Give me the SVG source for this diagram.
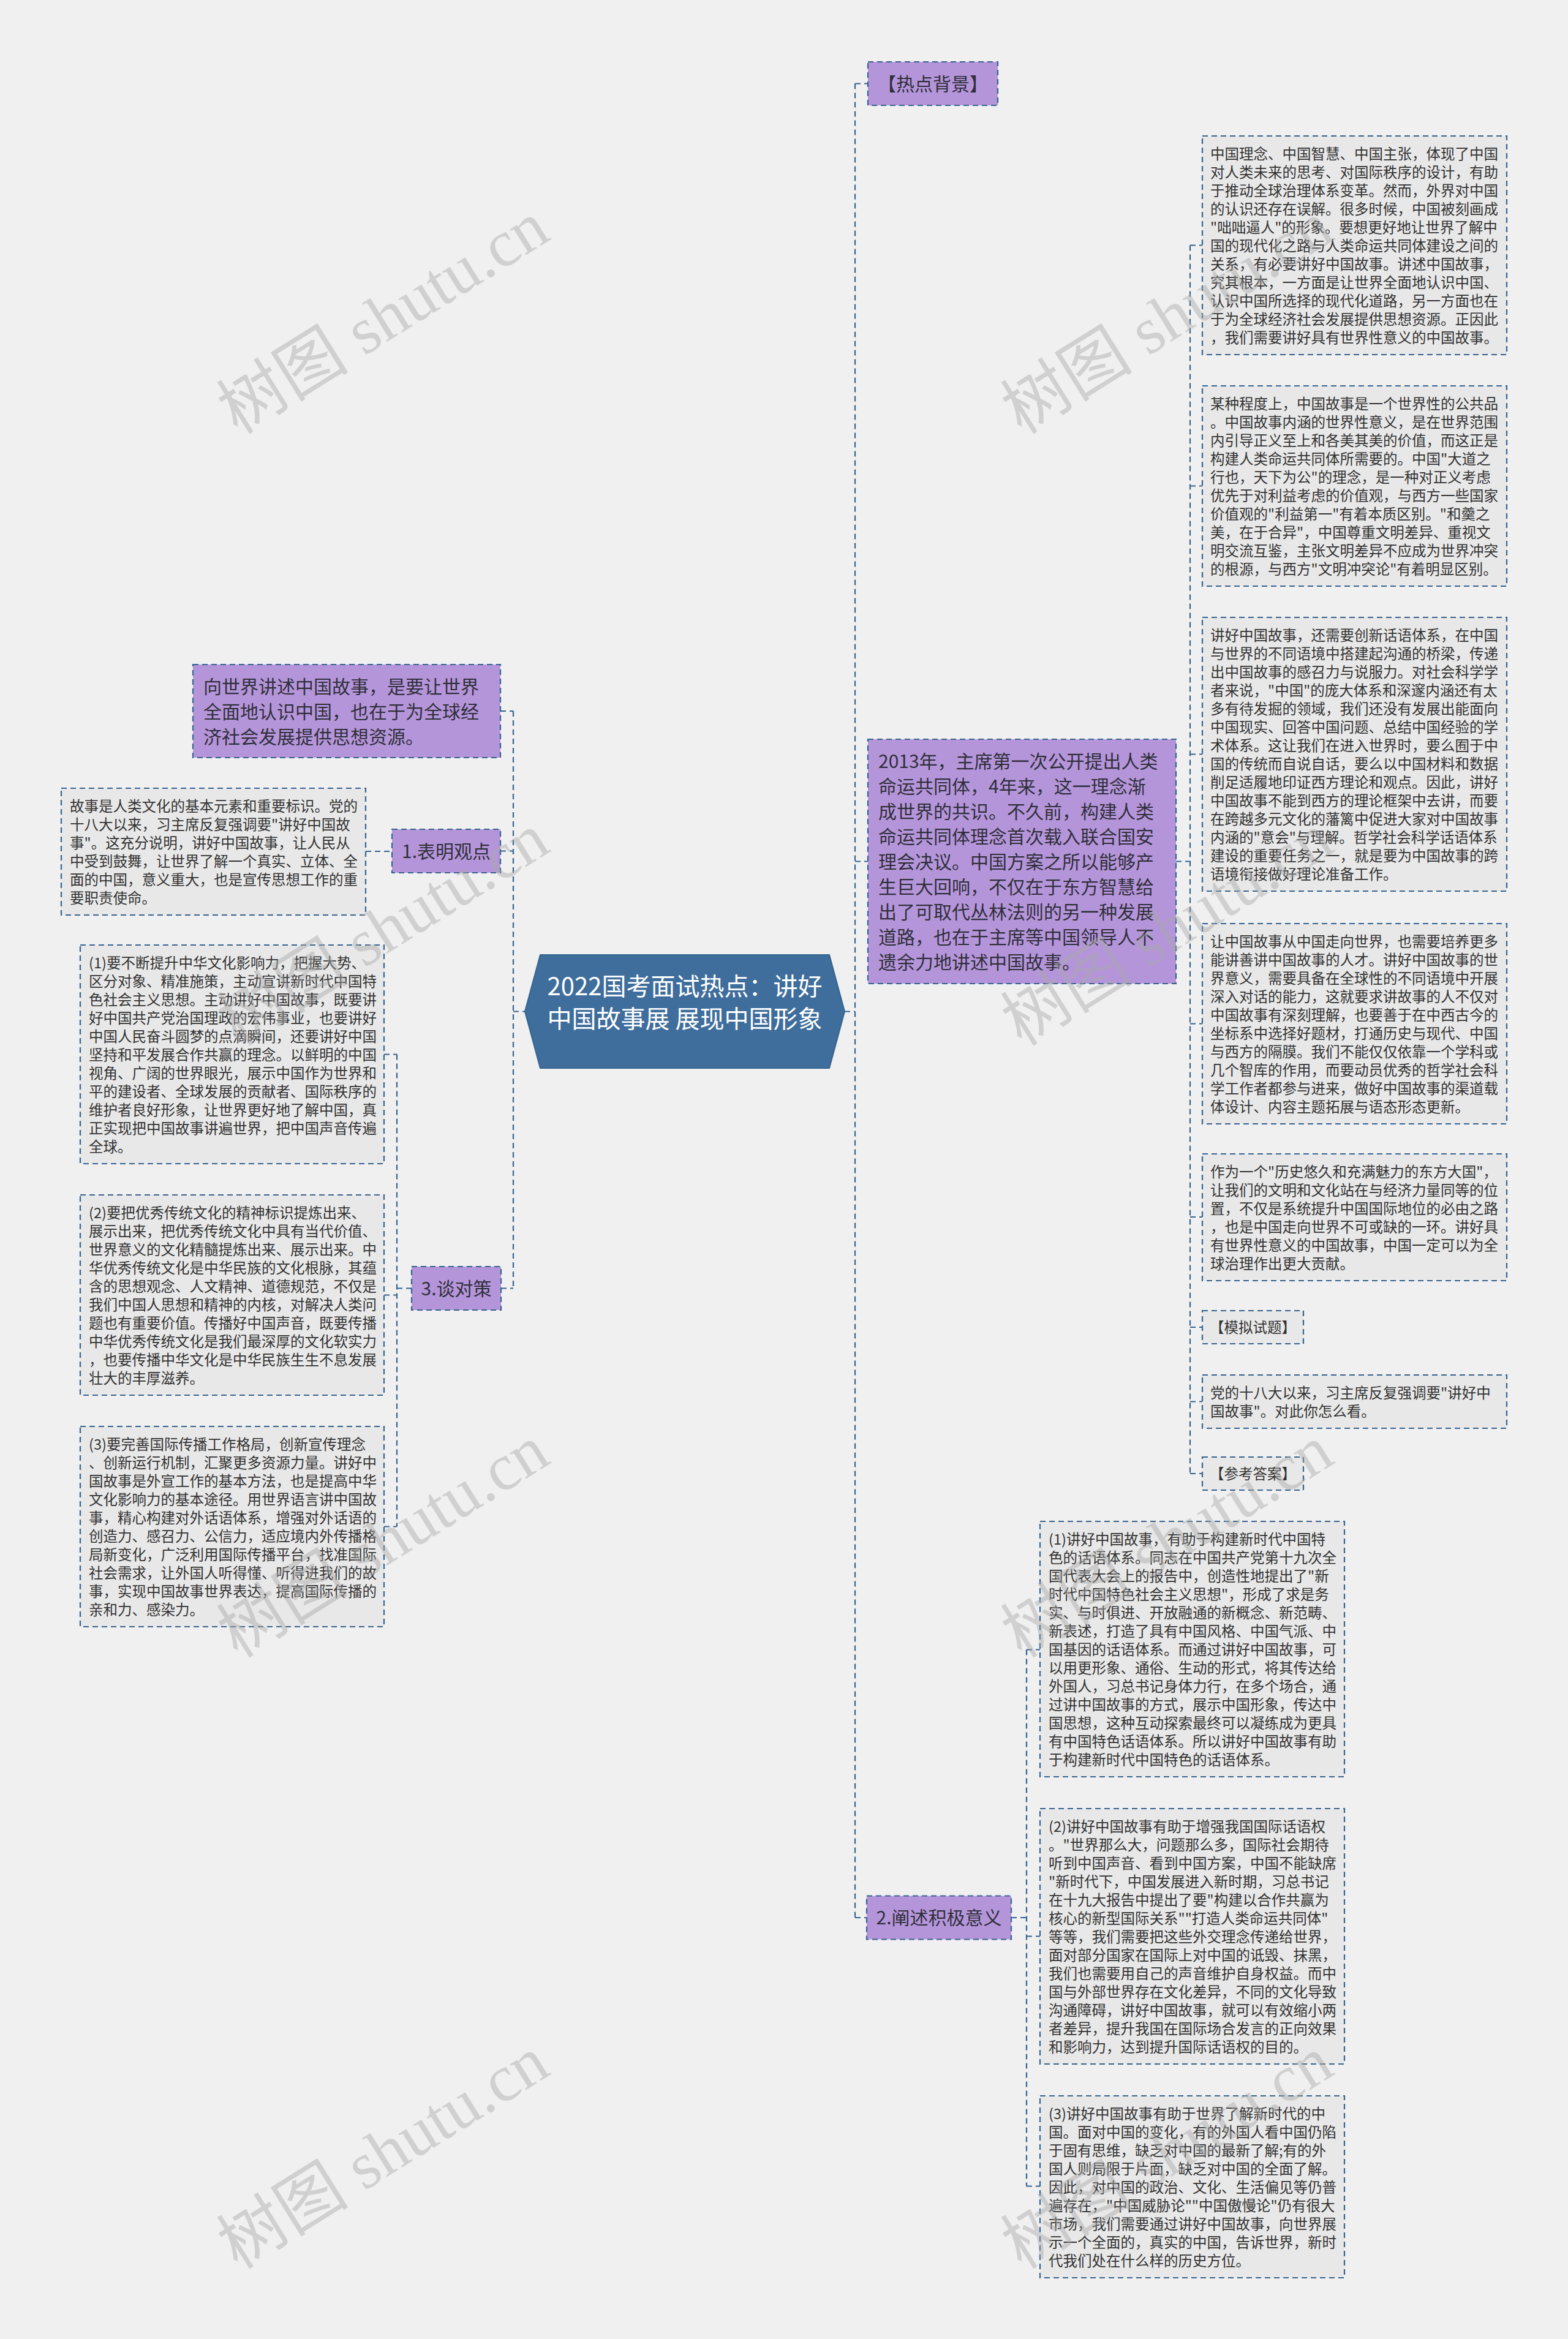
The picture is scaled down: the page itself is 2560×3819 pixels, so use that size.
<svg xmlns="http://www.w3.org/2000/svg" width="2560" height="3819" viewBox="0 0 2560 3819">
<style>
.conn{fill:none;stroke:#36648f;stroke-width:2.2;stroke-dasharray:9 6}
.box{fill:#e8e8e8;stroke:#36648f;stroke-width:2.2;stroke-dasharray:9 6}
.pur{fill:#b595da;stroke:#36648f;stroke-width:2.2;stroke-dasharray:9 6}
.t{font-family:"Noto Sans CJK SC","Liberation Sans",sans-serif;font-size:23.5px;fill:#333333}
.tp{font-family:"Noto Sans CJK SC","Liberation Sans",sans-serif;font-size:30px;fill:#2f2f3a}
.tc{font-family:"Noto Sans CJK SC","Liberation Sans",sans-serif;font-size:40px;fill:#ffffff}
.wm{font-family:"Liberation Serif","Noto Sans CJK SC",serif;font-size:108px;fill:#a8a8a8;fill-opacity:0.45}
</style>
<rect x="0" y="0" width="2560" height="3819" fill="#f0f0f0"/>

<g id="connectors">
<path class="conn" d="M1396,136.5 V3131 M1379,1651.5 H1396 M1396,136.5 H1417 M1396,1406.5 H1417 M1396,3131 H1415"/>
<path class="conn" d="M838,1161 V2103.5 M838,1651.5 H857 M817,1161 H838 M817,1389.5 H838 M818,2103.5 H838"/>
<path class="conn" d="M597,1390 H640"/>
<path class="conn" d="M648,1721.5 V2492.5 M648,2103.5 H672 M627,1721.5 H648 M627,2114.5 H648 M627,2492.5 H648"/>
<path class="conn" d="M1943,400.5 V2406 M1920,1406.5 H1943 M1943,400.5 H1963 M1943,793.5 H1963 M1943,1231.5 H1963 M1943,1671.5 H1963 M1943,1987 H1963 M1943,2167 H1963 M1943,2288.5 H1963 M1943,2406 H1963"/>
<path class="conn" d="M1676,2693.5 V3569.5 M1651,3131 H1676 M1676,2693.5 H1698 M1676,3161.5 H1698 M1676,3569.5 H1698"/>
</g>

<g id="center">
<path d="M857,1651.5 L882,1559 H1354 L1379,1651.5 L1354,1744 H882 Z" fill="#3f6e9d" stroke="#36648f" stroke-width="2" stroke-linejoin="round"/>
<text class="tc" text-anchor="middle"><tspan x="1118" y="1625">2022国考面试热点：讲好</tspan><tspan x="1118" y="1678">中国故事展 展现中国形象</tspan></text>
</g>

<g id="n-rdbj">
<rect class="pur" x="1417" y="101" width="212" height="71"/>
<text class="tp" x="1523" y="147.5" text-anchor="middle">【热点背景】</text>
</g>

<g id="n-2013">
<rect class="pur" x="1417" y="1207" width="503" height="399"/>
<text class="tp"><tspan x="1434" y="1254">2013年，主席第一次公开提出人类</tspan><tspan x="1434" dy="41">命运共同体，4年来，这一理念渐</tspan><tspan x="1434" dy="41">成世界的共识。不久前，构建人类</tspan><tspan x="1434" dy="41">命运共同体理念首次载入联合国安</tspan><tspan x="1434" dy="41">理会决议。中国方案之所以能够产</tspan><tspan x="1434" dy="41">生巨大回响，不仅在于东方智慧给</tspan><tspan x="1434" dy="41">出了可取代丛林法则的另一种发展</tspan><tspan x="1434" dy="41">道路，也在于主席等中国领导人不</tspan><tspan x="1434" dy="41">遗余力地讲述中国故事。</tspan></text>
</g>

<g id="n-r1">
<rect class="box" x="1963" y="222" width="497" height="357"/>
<text class="t"><tspan x="1976" y="260">中国理念、中国智慧、中国主张，体现了中国</tspan><tspan x="1976" dy="30">对人类未来的思考、对国际秩序的设计，有助</tspan><tspan x="1976" dy="30">于推动全球治理体系变革。然而，外界对中国</tspan><tspan x="1976" dy="30">的认识还存在误解。很多时候，中国被刻画成</tspan><tspan x="1976" dy="30">"咄咄逼人"的形象。要想更好地让世界了解中</tspan><tspan x="1976" dy="30">国的现代化之路与人类命运共同体建设之间的</tspan><tspan x="1976" dy="30">关系，有必要讲好中国故事。讲述中国故事，</tspan><tspan x="1976" dy="30">究其根本，一方面是让世界全面地认识中国、</tspan><tspan x="1976" dy="30">认识中国所选择的现代化道路，另一方面也在</tspan><tspan x="1976" dy="30">于为全球经济社会发展提供思想资源。正因此</tspan><tspan x="1976" dy="30">，我们需要讲好具有世界性意义的中国故事。</tspan></text>
</g>

<g id="n-r2">
<rect class="box" x="1963" y="630" width="497" height="327"/>
<text class="t"><tspan x="1976" y="668">某种程度上，中国故事是一个世界性的公共品</tspan><tspan x="1976" dy="30">。中国故事内涵的世界性意义，是在世界范围</tspan><tspan x="1976" dy="30">内引导正义至上和各美其美的价值，而这正是</tspan><tspan x="1976" dy="30">构建人类命运共同体所需要的。中国"大道之</tspan><tspan x="1976" dy="30">行也，天下为公"的理念，是一种对正义考虑</tspan><tspan x="1976" dy="30">优先于对利益考虑的价值观，与西方一些国家</tspan><tspan x="1976" dy="30">价值观的"利益第一"有着本质区别。"和羹之</tspan><tspan x="1976" dy="30">美，在于合异"，中国尊重文明差异、重视文</tspan><tspan x="1976" dy="30">明交流互鉴，主张文明差异不应成为世界冲突</tspan><tspan x="1976" dy="30">的根源，与西方"文明冲突论"有着明显区别。</tspan></text>
</g>

<g id="n-r3">
<rect class="box" x="1963" y="1008" width="497" height="447"/>
<text class="t"><tspan x="1976" y="1046">讲好中国故事，还需要创新话语体系，在中国</tspan><tspan x="1976" dy="30">与世界的不同语境中搭建起沟通的桥梁，传递</tspan><tspan x="1976" dy="30">出中国故事的感召力与说服力。对社会科学学</tspan><tspan x="1976" dy="30">者来说，"中国"的庞大体系和深邃内涵还有太</tspan><tspan x="1976" dy="30">多有待发掘的领域，我们还没有发展出能面向</tspan><tspan x="1976" dy="30">中国现实、回答中国问题、总结中国经验的学</tspan><tspan x="1976" dy="30">术体系。这让我们在进入世界时，要么囿于中</tspan><tspan x="1976" dy="30">国的传统而自说自话，要么以中国材料和数据</tspan><tspan x="1976" dy="30">削足适履地印证西方理论和观点。因此，讲好</tspan><tspan x="1976" dy="30">中国故事不能到西方的理论框架中去讲，而要</tspan><tspan x="1976" dy="30">在跨越多元文化的藩篱中促进大家对中国故事</tspan><tspan x="1976" dy="30">内涵的"意会"与理解。哲学社会科学话语体系</tspan><tspan x="1976" dy="30">建设的重要任务之一，就是要为中国故事的跨</tspan><tspan x="1976" dy="30">语境衔接做好理论准备工作。</tspan></text>
</g>

<g id="n-r4">
<rect class="box" x="1963" y="1508" width="497" height="327"/>
<text class="t"><tspan x="1976" y="1546">让中国故事从中国走向世界，也需要培养更多</tspan><tspan x="1976" dy="30">能讲善讲中国故事的人才。讲好中国故事的世</tspan><tspan x="1976" dy="30">界意义，需要具备在全球性的不同语境中开展</tspan><tspan x="1976" dy="30">深入对话的能力，这就要求讲故事的人不仅对</tspan><tspan x="1976" dy="30">中国故事有深刻理解，也要善于在中西古今的</tspan><tspan x="1976" dy="30">坐标系中选择好题材，打通历史与现代、中国</tspan><tspan x="1976" dy="30">与西方的隔膜。我们不能仅仅依靠一个学科或</tspan><tspan x="1976" dy="30">几个智库的作用，而要动员优秀的哲学社会科</tspan><tspan x="1976" dy="30">学工作者都参与进来，做好中国故事的渠道载</tspan><tspan x="1976" dy="30">体设计、内容主题拓展与语态形态更新。</tspan></text>
</g>

<g id="n-r5">
<rect class="box" x="1963" y="1884" width="497" height="207"/>
<text class="t"><tspan x="1976" y="1922">作为一个"历史悠久和充满魅力的东方大国"，</tspan><tspan x="1976" dy="30">让我们的文明和文化站在与经济力量同等的位</tspan><tspan x="1976" dy="30">置，不仅是系统提升中国国际地位的必由之路</tspan><tspan x="1976" dy="30">，也是中国走向世界不可或缺的一环。讲好具</tspan><tspan x="1976" dy="30">有世界性意义的中国故事，中国一定可以为全</tspan><tspan x="1976" dy="30">球治理作出更大贡献。</tspan></text>
</g>

<g id="n-mnst">
<rect class="box" x="1963" y="2140" width="165" height="54"/>
<text class="t" x="2045.5" y="2176" text-anchor="middle">【模拟试题】</text>
</g>

<g id="n-q">
<rect class="box" x="1963" y="2245" width="497" height="87"/>
<text class="t"><tspan x="1976" y="2283">党的十八大以来，习主席反复强调要"讲好中</tspan><tspan x="1976" dy="30">国故事"。对此你怎么看。</tspan></text>
</g>

<g id="n-ckda">
<rect class="box" x="1963" y="2379" width="165" height="54"/>
<text class="t" x="2045.5" y="2415" text-anchor="middle">【参考答案】</text>
</g>

<g id="n-csjjyy">
<rect class="pur" x="1415" y="3095.5" width="236" height="71"/>
<text class="tp" x="1533" y="3142" text-anchor="middle">2.阐述积极意义</text>
</g>

<g id="n-a1">
<rect class="box" x="1698" y="2484" width="497" height="417"/>
<text class="t"><tspan x="1712" y="2522">(1)讲好中国故事，有助于构建新时代中国特</tspan><tspan x="1712" dy="30">色的话语体系。同志在中国共产党第十九次全</tspan><tspan x="1712" dy="30">国代表大会上的报告中，创造性地提出了"新</tspan><tspan x="1712" dy="30">时代中国特色社会主义思想"，形成了求是务</tspan><tspan x="1712" dy="30">实、与时俱进、开放融通的新概念、新范畴、</tspan><tspan x="1712" dy="30">新表述，打造了具有中国风格、中国气派、中</tspan><tspan x="1712" dy="30">国基因的话语体系。而通过讲好中国故事，可</tspan><tspan x="1712" dy="30">以用更形象、通俗、生动的形式，将其传达给</tspan><tspan x="1712" dy="30">外国人，习总书记身体力行，在多个场合，通</tspan><tspan x="1712" dy="30">过讲中国故事的方式，展示中国形象，传达中</tspan><tspan x="1712" dy="30">国思想，这种互动探索最终可以凝练成为更具</tspan><tspan x="1712" dy="30">有中国特色话语体系。所以讲好中国故事有助</tspan><tspan x="1712" dy="30">于构建新时代中国特色的话语体系。</tspan></text>
</g>

<g id="n-a2">
<rect class="box" x="1698" y="2953" width="497" height="417"/>
<text class="t"><tspan x="1712" y="2991">(2)讲好中国故事有助于增强我国国际话语权</tspan><tspan x="1712" dy="30">。"世界那么大，问题那么多，国际社会期待</tspan><tspan x="1712" dy="30">听到中国声音、看到中国方案，中国不能缺席</tspan><tspan x="1712" dy="30">"新时代下，中国发展进入新时期，习总书记</tspan><tspan x="1712" dy="30">在十九大报告中提出了要"构建以合作共赢为</tspan><tspan x="1712" dy="30">核心的新型国际关系""打造人类命运共同体"</tspan><tspan x="1712" dy="30">等等，我们需要把这些外交理念传递给世界，</tspan><tspan x="1712" dy="30">面对部分国家在国际上对中国的诋毁、抹黑，</tspan><tspan x="1712" dy="30">我们也需要用自己的声音维护自身权益。而中</tspan><tspan x="1712" dy="30">国与外部世界存在文化差异，不同的文化导致</tspan><tspan x="1712" dy="30">沟通障碍，讲好中国故事，就可以有效缩小两</tspan><tspan x="1712" dy="30">者差异，提升我国在国际场合发言的正向效果</tspan><tspan x="1712" dy="30">和影响力，达到提升国际话语权的目的。</tspan></text>
</g>

<g id="n-a3">
<rect class="box" x="1698" y="3422" width="497" height="297"/>
<text class="t"><tspan x="1712" y="3460">(3)讲好中国故事有助于世界了解新时代的中</tspan><tspan x="1712" dy="30">国。面对中国的变化，有的外国人看中国仍陷</tspan><tspan x="1712" dy="30">于固有思维，缺乏对中国的最新了解;有的外</tspan><tspan x="1712" dy="30">国人则局限于片面，缺乏对中国的全面了解。</tspan><tspan x="1712" dy="30">因此，对中国的政治、文化、生活偏见等仍普</tspan><tspan x="1712" dy="30">遍存在，"中国威胁论""中国傲慢论"仍有很大</tspan><tspan x="1712" dy="30">市场，我们需要通过讲好中国故事，向世界展</tspan><tspan x="1712" dy="30">示一个全面的，真实的中国，告诉世界，新时</tspan><tspan x="1712" dy="30">代我们处在什么样的历史方位。</tspan></text>
</g>

<g id="n-xsj">
<rect class="pur" x="315" y="1085" width="502" height="152"/>
<text class="tp"><tspan x="332" y="1132">向世界讲述中国故事，是要让世界</tspan><tspan x="332" dy="41">全面地认识中国，也在于为全球经</tspan><tspan x="332" dy="41">济社会发展提供思想资源。</tspan></text>
</g>

<g id="n-bmgd">
<rect class="pur" x="640" y="1354" width="177" height="71"/>
<text class="tp" x="728.5" y="1400.5" text-anchor="middle">1.表明观点</text>
</g>

<g id="n-gs">
<rect class="box" x="100" y="1287" width="497" height="207"/>
<text class="t"><tspan x="114" y="1325">故事是人类文化的基本元素和重要标识。党的</tspan><tspan x="114" dy="30">十八大以来，习主席反复强调要"讲好中国故</tspan><tspan x="114" dy="30">事"。这充分说明，讲好中国故事，让人民从</tspan><tspan x="114" dy="30">中受到鼓舞，让世界了解一个真实、立体、全</tspan><tspan x="114" dy="30">面的中国，意义重大，也是宣传思想工作的重</tspan><tspan x="114" dy="30">要职责使命。</tspan></text>
</g>

<g id="n-tdc">
<rect class="pur" x="672" y="2068" width="146" height="71"/>
<text class="tp" x="745" y="2114.5" text-anchor="middle">3.谈对策</text>
</g>

<g id="n-l1">
<rect class="box" x="131" y="1543" width="496" height="357"/>
<text class="t"><tspan x="145" y="1581">(1)要不断提升中华文化影响力，把握大势、</tspan><tspan x="145" dy="30">区分对象、精准施策，主动宣讲新时代中国特</tspan><tspan x="145" dy="30">色社会主义思想。主动讲好中国故事，既要讲</tspan><tspan x="145" dy="30">好中国共产党治国理政的宏伟事业，也要讲好</tspan><tspan x="145" dy="30">中国人民奋斗圆梦的点滴瞬间，还要讲好中国</tspan><tspan x="145" dy="30">坚持和平发展合作共赢的理念。以鲜明的中国</tspan><tspan x="145" dy="30">视角、广阔的世界眼光，展示中国作为世界和</tspan><tspan x="145" dy="30">平的建设者、全球发展的贡献者、国际秩序的</tspan><tspan x="145" dy="30">维护者良好形象，让世界更好地了解中国，真</tspan><tspan x="145" dy="30">正实现把中国故事讲遍世界，把中国声音传遍</tspan><tspan x="145" dy="30">全球。</tspan></text>
</g>

<g id="n-l2">
<rect class="box" x="131" y="1951" width="496" height="327"/>
<text class="t"><tspan x="145" y="1989">(2)要把优秀传统文化的精神标识提炼出来、</tspan><tspan x="145" dy="30">展示出来，把优秀传统文化中具有当代价值、</tspan><tspan x="145" dy="30">世界意义的文化精髓提炼出来、展示出来。中</tspan><tspan x="145" dy="30">华优秀传统文化是中华民族的文化根脉，其蕴</tspan><tspan x="145" dy="30">含的思想观念、人文精神、道德规范，不仅是</tspan><tspan x="145" dy="30">我们中国人思想和精神的内核，对解决人类问</tspan><tspan x="145" dy="30">题也有重要价值。传播好中国声音，既要传播</tspan><tspan x="145" dy="30">中华优秀传统文化是我们最深厚的文化软实力</tspan><tspan x="145" dy="30">，也要传播中华文化是中华民族生生不息发展</tspan><tspan x="145" dy="30">壮大的丰厚滋养。</tspan></text>
</g>

<g id="n-l3">
<rect class="box" x="131" y="2329" width="496" height="327"/>
<text class="t"><tspan x="145" y="2367">(3)要完善国际传播工作格局，创新宣传理念</tspan><tspan x="145" dy="30">、创新运行机制，汇聚更多资源力量。讲好中</tspan><tspan x="145" dy="30">国故事是外宣工作的基本方法，也是提高中华</tspan><tspan x="145" dy="30">文化影响力的基本途径。用世界语言讲中国故</tspan><tspan x="145" dy="30">事，精心构建对外话语体系，增强对外话语的</tspan><tspan x="145" dy="30">创造力、感召力、公信力，适应境内外传播格</tspan><tspan x="145" dy="30">局新变化，广泛利用国际传播平台，找准国际</tspan><tspan x="145" dy="30">社会需求，让外国人听得懂、听得进我们的故</tspan><tspan x="145" dy="30">事，实现中国故事世界表达，提高国际传播的</tspan><tspan x="145" dy="30">亲和力、感染力。</tspan></text>
</g>

<g id="watermarks">
<text class="wm" text-anchor="middle" transform="translate(645,550) rotate(-32)">树图 shutu.cn</text>
<text class="wm" text-anchor="middle" transform="translate(1925,550) rotate(-32)">树图 shutu.cn</text>
<text class="wm" text-anchor="middle" transform="translate(645,1549) rotate(-32)">树图 shutu.cn</text>
<text class="wm" text-anchor="middle" transform="translate(1925,1549) rotate(-32)">树图 shutu.cn</text>
<text class="wm" text-anchor="middle" transform="translate(645,2548) rotate(-32)">树图 shutu.cn</text>
<text class="wm" text-anchor="middle" transform="translate(1925,2548) rotate(-32)">树图 shutu.cn</text>
<text class="wm" text-anchor="middle" transform="translate(645,3546) rotate(-32)">树图 shutu.cn</text>
<text class="wm" text-anchor="middle" transform="translate(1925,3546) rotate(-32)">树图 shutu.cn</text>
</g>
</svg>
